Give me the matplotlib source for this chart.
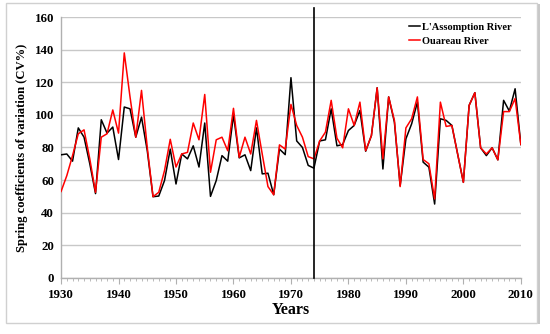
import numpy as np
import matplotlib
matplotlib.use('Agg')
import matplotlib.pyplot as plt
from matplotlib.patches import Rectangle

plt.rcParams['font.family'] = ['Liberation Serif', 'DejaVu Serif']
plt.rcParams['font.weight'] = 'bold'

years = np.arange(1930, 2011)

# L'Assomption River, spring CV%
assomption = [
    75.5, 76, 71.6, 92, 86.3, 70, 51.7, 97, 88.8, 92.5,
    72.6, 104.8, 103.7, 86.3, 98.6, 78, 49.8, 50.2, 59.7, 79,
    57.6, 76, 73, 81, 68, 95, 50, 59.7, 75, 71.6,
    100, 73.6, 75.5, 65.8, 92, 63.8, 64.2, 51, 79, 75.6,
    122.8, 84, 80, 69, 67.3, 84, 84.7, 103.7, 81, 81.8,
    90.4, 93.5, 102.7, 77.7, 87.3, 116.6, 66.8, 111, 95.5, 56.6,
    85.3, 94.5, 107.8, 71, 67.9, 45.3, 97.6, 96.6, 93.5, 76,
    58.6, 105.8, 113.6, 79.8, 75, 79.8, 72.4, 108.9, 102.3, 116,
    81.8,
]

# Ouareau River, spring CV%
ouareau = [
    53, 62.7, 75, 88.4, 90.8, 73, 52.5, 86.3, 88.4, 103,
    88.8, 138, 111, 86.3, 115, 80, 49.8, 52.5, 65.8, 85,
    68, 76, 77, 95, 84.7, 112.5, 64.8, 84.7, 86.3, 78,
    104, 74, 86.3, 76, 96.6, 76, 56, 51, 81.6, 79,
    106.4, 93.5, 86.3, 74.4, 73, 84, 89.4, 108.9, 85.7, 79.8,
    103.7, 93.5, 107.8, 78, 87.3, 116.6, 73, 111, 96.6, 56,
    92, 97.6, 111, 72.6, 70, 48.4, 107.8, 92.9, 93.5, 76,
    58.6, 105.8, 113.6, 79.8, 76, 79.8, 72.4, 102, 102, 110,
    81.8,
]

split_year = 1974

fig = plt.figure(figsize=(5.5, 3.34), dpi=100)
ax = fig.add_axes([0.111, 0.168, 0.836, 0.781])

# figure frame with a light shadow
fig.patches.append(Rectangle((6 / 550, 1 - 323 / 334), 531 / 550, 320 / 334,
                             transform=fig.transFigure, fill=False,
                             edgecolor='#d0d0d0', linewidth=1.0))
fig.patches.append(Rectangle((538 / 550, 1 - 324 / 334), 2 / 550, 320 / 334,
                             transform=fig.transFigure, color='#c8c8c8', linewidth=0))

ax.plot(years, assomption, color='black', linewidth=1.1, label="L'Assomption River", zorder=3)
ax.plot(years, ouareau, color='#ff0000', linewidth=1.1, label='Ouareau River', zorder=3)
ax.plot([split_year, split_year], [0, 165.5], color='black', linewidth=1.2,
        clip_on=False, zorder=4)

ax.set_xlim(1930, 2010)
ax.set_ylim(0, 160)
ax.set_xticks(np.arange(1930, 2011, 10))
ax.set_xticks(years, minor=True)
ax.set_yticks(np.arange(0, 161, 20))
ax.grid(axis='y', color='#c8c8c8', linewidth=1.0)
ax.set_axisbelow(True)

for s in ['top', 'right']:
    ax.spines[s].set_visible(False)
for s in ['left', 'bottom']:
    ax.spines[s].set_color('#b0b0b0')
    ax.spines[s].set_linewidth(1.0)

ax.tick_params(axis='x', which='major', length=4, color='#b0b0b0', labelsize=9.3, pad=4)
ax.tick_params(axis='x', which='minor', length=2.5, color='#b0b0b0')
ax.tick_params(axis='y', length=0, labelsize=9.3, pad=5)
for lab in ax.get_xticklabels() + ax.get_yticklabels():
    lab.set_fontweight('bold')

ax.set_xlabel('Years', fontsize=11.5, fontweight='bold', labelpad=1)
ax.set_ylabel('Spring coefficients of variation (CV%)', fontsize=9.1,
              fontweight='bold', labelpad=5)

leg = ax.legend(loc='upper right', bbox_to_anchor=(1.0, 1.015), frameon=False,
                handlelength=1.0, handletextpad=0.2, labelspacing=0.45,
                prop={'size': 7.5, 'weight': 'bold'})

fig.savefig('out.png', dpi=100)
